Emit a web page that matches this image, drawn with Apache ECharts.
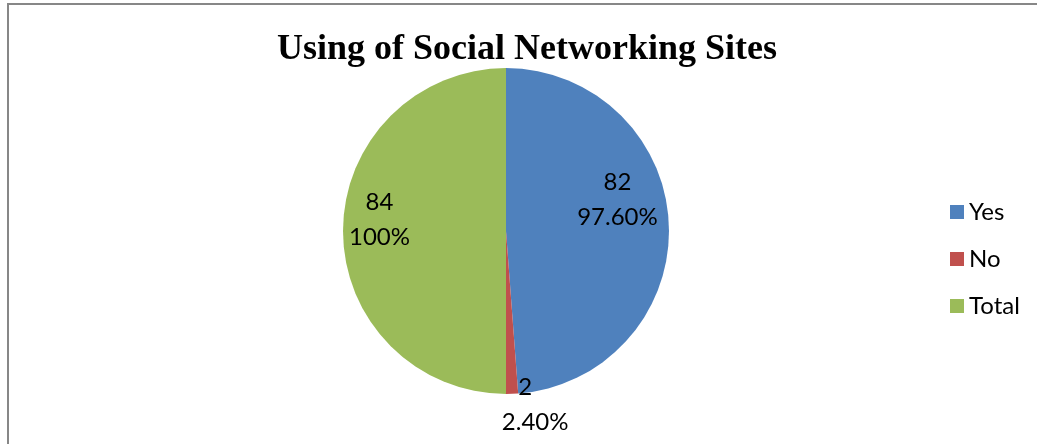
<!DOCTYPE html>
<html>
<head>
<meta charset="utf-8">
<script src="https://cdn.jsdelivr.net/npm/echarts@6/dist/echarts.min.js"></script>
<style>
  html, body { margin: 0; padding: 0; background: #fff; }
  #frame { position: absolute; left: 7px; top: 3px; width: 1030px; height: 441px;
           border-left: 2px solid #878787; border-top: 2px solid #878787; }
  #chart { position: absolute; left: 0; top: 0; width: 1037px; height: 444px; }
</style>
</head>
<body>
<div id="frame"></div>
<div id="chart"></div>
<script>
// Survey answers on whether respondents use social networking sites
const categories = ['Yes', 'No', 'Total'];
const counts = [82, 2, 84];
const shareLabels = ['97.60%', '2.40%', '100%'];
const colors = ['#4F81BD', '#C0504D', '#9BBB59'];
// label nudges from the default inside position
const labelOffsets = [[27, -28], [26, 89], [-42, -11]];

const chart = echarts.init(document.getElementById('chart'));

const data = categories.map((name, i) => ({
  name: name,
  value: counts[i],
  itemStyle: { color: colors[i] },
  label: {
    offset: labelOffsets[i],
    formatter: i === 1
      ? '{first|' + counts[i] + '}\n{second|' + shareLabels[i] + '}'
      : counts[i] + '\n' + shareLabels[i]
  }
}));

chart.setOption({
  animation: false,
  backgroundColor: 'transparent',
  title: {
    text: 'Using of Social Networking Sites',
    left: 522,
    textAlign: 'center',
    top: 27,
    textStyle: {
      fontFamily: 'Liberation Serif',
      fontWeight: 'bold',
      fontSize: 36,
      color: '#000'
    }
  },
  legend: {
    orient: 'vertical',
    left: 945,
    top: 195,
    itemWidth: 14,
    itemHeight: 14,
    itemGap: 23,
    itemStyle: { borderWidth: 0 },
    icon: 'rect',
    data: categories,
    textStyle: { fontFamily: 'Lato', fontSize: 24, color: '#000' }
  },
  series: [{
    type: 'pie',
    center: [506, 231],
    radius: 163,
    startAngle: 90,
    clockwise: true,
    avoidLabelOverlap: false,
    label: {
      show: true,
      position: 'inside',
      fontFamily: 'Lato',
      fontSize: 24,
      lineHeight: 35,
      color: '#000',
      rich: {
        first: { fontFamily: 'Lato', fontSize: 24, lineHeight: 35, color: '#000', padding: [0, 20, 0, 0] },
        second: { fontFamily: 'Lato', fontSize: 24, lineHeight: 35, color: '#000' }
      }
    },
    labelLine: { show: false },
    emphasis: { disabled: true },
    data: data
  }]
});
</script>
</body>
</html>
